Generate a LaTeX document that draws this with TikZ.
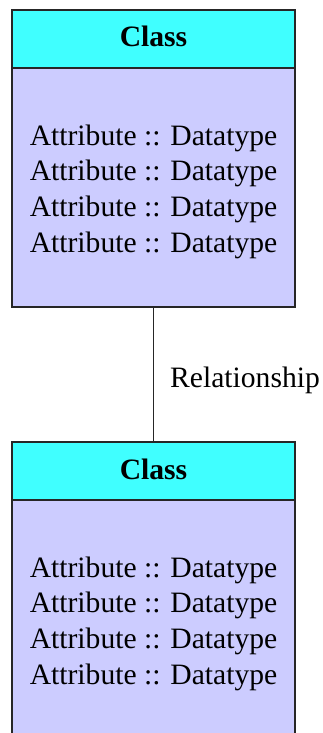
\documentclass[tikz,border=0pt]{standalone}
\usepackage{fontspec}
\setmainfont{Liberation Serif}
\definecolor{hdr}{HTML}{40FFFF}
\definecolor{bdy}{HTML}{CCCCFF}
\begin{document}
\begin{tikzpicture}[x=1pt,y=-1pt,
  box/.style={draw=black!85,line width=1.6pt,inner sep=0pt,outer sep=0pt},
  txt/.style={inner sep=0pt,anchor=base,font=\fontsize{29.6}{35.5}\selectfont},
  ttl/.style={inner sep=0pt,anchor=base,font=\fontsize{29.6}{35.5}\selectfont\bfseries}]
\useasboundingbox (0,0) rectangle (323,733);
% class 1
\draw[box,fill=bdy] (12,68) rectangle (295,307);
\draw[box,fill=hdr] (12,10) rectangle (295,68);
\coordinate (b1s) at (153.5,307);
\node[ttl] (t1) at (153.5,47) {Class};
\node[txt] (a11) at (153.5,145) {Attribute :: Datatype};
\node[txt] (a12) at (153.5,180.7) {Attribute :: Datatype};
\node[txt] (a13) at (153.5,216.4) {Attribute :: Datatype};
\node[txt] (a14) at (153.5,252) {Attribute :: Datatype};
% class 2
\draw[box,fill=bdy] (12,500) rectangle (295,739);
\draw[box,fill=hdr] (12,442) rectangle (295,500);
\coordinate (h2n) at (153.5,442);
\node[ttl] (t2) at (153.5,479) {Class};
\node[txt] (a21) at (153.5,577) {Attribute :: Datatype};
\node[txt] (a22) at (153.5,612.7) {Attribute :: Datatype};
\node[txt] (a23) at (153.5,648.4) {Attribute :: Datatype};
\node[txt] (a24) at (153.5,684) {Attribute :: Datatype};
% relationship
\draw[black!85,line width=1.6pt] (b1s) -- (h2n);
\node[txt,anchor=base west] (rel) at (170,387) {Relationship};
\end{tikzpicture}
\end{document}
